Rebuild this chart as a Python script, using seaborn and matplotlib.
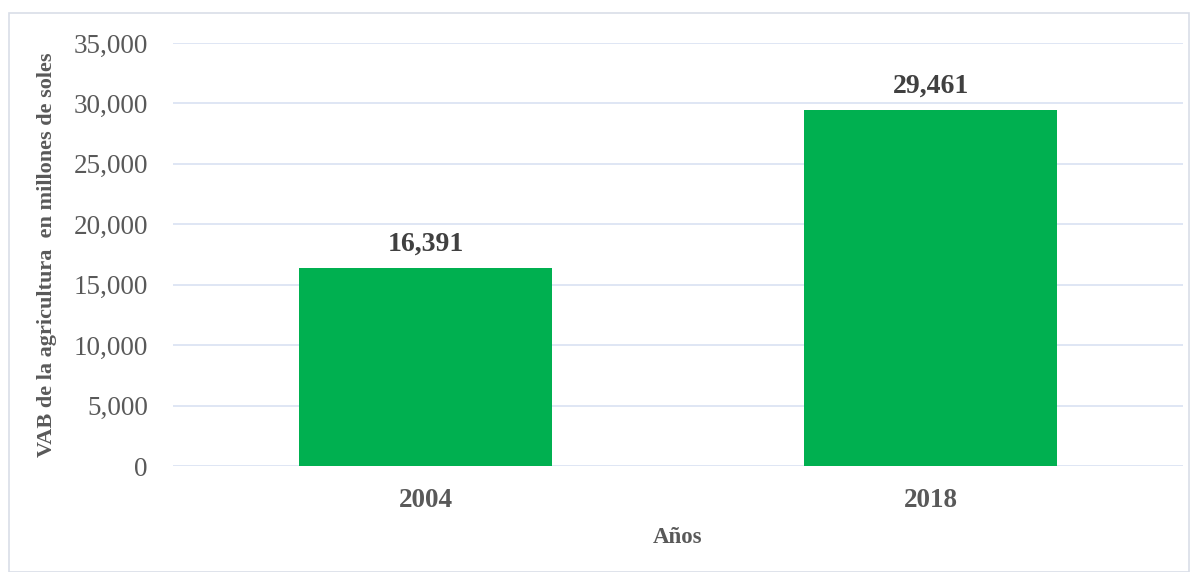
import matplotlib
matplotlib.use("Agg")
import matplotlib.pyplot as plt
import seaborn as sns
import pandas as pd
from matplotlib.patches import Rectangle

years = ["2004", "2018"]
vab = [16391, 29461]

df = pd.DataFrame({"year": years, "vab": vab})

sns.set_style("white")
plt.rcParams["font.family"] = ["Liberation Serif", "DejaVu Serif"]

fig = plt.figure(figsize=(11.98, 5.72), dpi=100)
ax = fig.add_axes([0.1444, 0.1853, 0.8431, 0.7395])

sns.barplot(data=df, x="year", y="vab", color="#00B050", width=0.5,
            saturation=1, ax=ax, zorder=3, edgecolor="none")

ax.set_ylim(0, 35000)
ax.set_yticks(range(0, 35001, 5000))
ax.set_yticklabels([f"{v:,}" for v in range(0, 35001, 5000)])
ax.grid(axis="y", color="#D9E1F2", linewidth=1.2, zorder=0)
for s in ax.spines.values():
    s.set_visible(False)
ax.tick_params(axis="y", length=0, pad=18, labelsize=19.5, labelcolor="#595959")
ax.tick_params(axis="x", length=0, pad=16, labelsize=19.5, labelcolor="#595959")
for lbl in ax.get_xticklabels():
    lbl.set_fontweight("bold")

for p, v in zip(ax.patches, vab):
    ax.annotate(f"{v:,}", (p.get_x() + p.get_width() / 2, p.get_height()),
                xytext=(0, 8), textcoords="offset points", ha="center", va="bottom",
                fontsize=20, fontweight="bold", color="#404040")

ax.set_xlabel("Años", fontsize=16.5, fontweight="bold", color="#595959")
ax.xaxis.set_label_coords(0.5, -0.145)
ax.set_ylabel("VAB de la agricultura  en millones de soles", fontsize=16,
              fontweight="bold", color="#595959")
ax.yaxis.set_label_coords(-0.115, 0.5)

fig.patches.append(Rectangle((9 / 1198, 0), 1180 / 1198, 1 - 13 / 572,
                             transform=fig.transFigure, fill=False,
                             edgecolor="#D9DEE8", linewidth=1.2))

fig.savefig("out.png", dpi=100)
